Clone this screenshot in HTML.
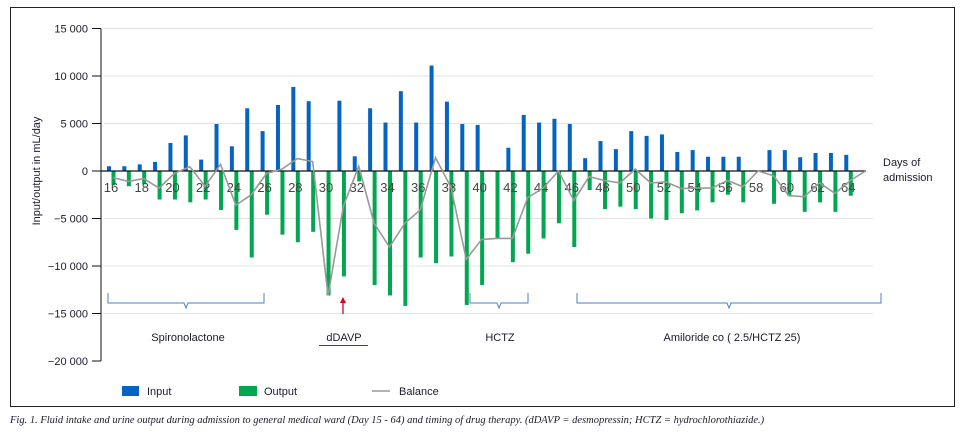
<!DOCTYPE html>
<html><head><meta charset="utf-8"><style>
body{margin:0;background:#fff;width:965px;height:434px;overflow:hidden;font-family:"Liberation Sans",sans-serif}
svg{position:absolute;left:0;top:0}
</style></head><body>
<svg width="965" height="434" xmlns="http://www.w3.org/2000/svg">
<rect x="10.5" y="7.5" width="944" height="399" fill="none" stroke="#222" stroke-width="1"/>
<g id="grid"></g><g id="bars"></g><g id="axes"></g>
<text x="40" y="171" transform="rotate(-90 40 171)" text-anchor="middle" font-size="11" fill="#1a1a2e">Input/output in mL/day</text>
<text x="883" y="166" font-size="11" fill="#1a1a2e">Days of</text>
<text x="883" y="181" font-size="11" fill="#1a1a2e">admission</text>
<g fill="none" stroke="#4a7fc1" stroke-width="1">
<path d="M108 293 V303 H184 L186 308 L188 303 H264 V293"/>
<path d="M470 293 V303 H497 L499 308 L501 303 H528 V293"/>
<path d="M577 293 V303 H727 L729 308 L731 303 H881 V293"/>
</g>
<line x1="343" y1="314" x2="343" y2="302" stroke="#e0001b" stroke-width="1.3"/>
<path d="M340 303 L343 297 L346 303Z" fill="#e0001b"/>
<text x="188" y="341" text-anchor="middle" font-size="11" fill="#1a1a2e">Spironolactone</text>
<text x="344" y="341" text-anchor="middle" font-size="11" fill="#1a1a2e">dDAVP</text>
<line x1="319" y1="345.5" x2="368" y2="345.5" stroke="#e0001b" stroke-width="1"/>
<text x="500" y="341" text-anchor="middle" font-size="11" fill="#1a1a2e">HCTZ</text>
<text x="732" y="341" text-anchor="middle" font-size="11" fill="#1a1a2e">Amiloride co ( 2.5/HCTZ 25)</text>
<g>
<rect x="122" y="386" width="17" height="10" fill="#0563c1"/>
<text x="147" y="395" font-size="11" fill="#1a1a2e">Input</text>
<rect x="239" y="386" width="18" height="10" fill="#00a650"/>
<text x="264" y="395" font-size="11" fill="#1a1a2e">Output</text>
<line x1="372" y1="391" x2="390" y2="391" stroke="#999" stroke-width="1.5"/>
<text x="399" y="395" font-size="11" fill="#1a1a2e">Balance</text>
</g>
<text x="10" y="423" font-family="Liberation Serif,serif" font-style="italic" font-size="10.5" fill="#1a1a2e">Fig. 1. Fluid intake and urine output during admission to general medical ward (Day 15 - 64) and timing of drug therapy. (dDAVP = desmopressin; HCTZ = hydrochlorothiazide.)</text>
</svg>
<script>
const days=[16,17,18,19,20,21,22,23,24,25,26,27,28,29,30,31,32,33,34,35,36,37,38,39,40,41,42,43,44,45,46,47,48,49,50,51,52,53,54,55,56,57,58,59,60,61,62,63,64];
const inputVals=[500,500,700,950,2950,3750,1200,4950,2600,6600,4200,6950,8850,7350,0,7400,1550,6600,5100,8400,5100,11100,7300,4950,4850,0,2450,5900,5100,5500,4950,1350,3150,2300,4200,3700,3850,2000,2200,1500,1500,1500,0,2200,2200,1450,1900,1900,1700];
const outputVals=[-1500,-1600,-1400,-3000,-3000,-3300,-3000,-4100,-6200,-9100,-4600,-6700,-7500,-6400,-13100,-11100,-1100,-12000,-13100,-14200,-9100,-9700,-9000,-14100,-12000,-7100,-9600,-8700,-7100,-5500,-8000,-2000,-4000,-3750,-4000,-5000,-5150,-4450,-4150,-3300,-2500,-3300,0,-3450,-2600,-4300,-3300,-4300,-2600];
const balanceDays=[16,17,18,19,20,21,22,23,24,25,26,27,28,29,30,31,32,33,34,35,36,37,38,39,40,41,42,43,44,45,46,47,48,49,50,51,52,53,54,55,56,57,58,59,60,61,62,63,64,65];
const balanceVals=[-700,-1100,-800,-1800,-250,450,-1600,700,-3600,-2500,-250,200,1300,1000,-13100,-3700,500,-5500,-8000,-5500,-4100,1400,-1700,-9300,-7200,-7100,-7100,-2800,-1800,0,-3100,-600,-1000,-1250,200,-1250,-1150,-1850,-1800,-1800,-1000,-1650,0,-500,-2600,-2700,-1250,-2350,-1000,0];
const yTicks=[15000,10000,5000,0,-5000,-10000,-15000,-20000];
const yTickLabels=["15 000","10 000","5 000","0","−5 000","−10 000","−15 000","−20 000"];
const xTicks=[16,18,20,22,24,26,28,30,32,34,36,38,40,42,44,46,48,50,52,54,56,58,60,62,64];
const NS="http://www.w3.org/2000/svg";
function y(v){return 171-v*47.5/5000;}
function x(d){return 109+(d-16)*15.36;}
function mk(tag,attrs,parent){const e=document.createElementNS(NS,tag);for(const k in attrs)e.setAttribute(k,attrs[k]);parent.appendChild(e);return e;}
const grid=document.getElementById('grid'),bars=document.getElementById('bars'),axes=document.getElementById('axes');
yTicks.forEach((t,i)=>{
  if(t!==0&&t>=-15000){const g=mk('line',{x1:104,x2:873,y1:y(t),y2:y(t),stroke:'#e3e3e3','stroke-width':1},grid);
  
  }
  const tk=mk('line',{x1:92,x2:101,y1:y(t),y2:y(t),stroke:'#111','stroke-width':1},axes);
  
  
  const tx=mk('text',{x:88,y:y(t)+4,'text-anchor':'end','font-size':11,fill:'#1a1a2e'},axes);
  tx.textContent=yTickLabels[i].replace('−','−');
  
  
});
const ya=mk('line',{x1:101,x2:101,y1:y(15000),y2:y(-20000),stroke:'#111','stroke-width':1},axes);


days.forEach((d,i)=>{
  const a=inputVals[i];
  if(a>0){const r=mk('rect',{x:x(d)-2,y:y(a),width:4,height:y(0)-y(a),fill:'#0563c1'},bars);
  
  }
  const o=outputVals[i];
  if(o<0){const r=mk('rect',{x:x(d)+2.5,y:y(0),width:4,height:y(o)-y(0),fill:'#00a650'},bars);
  
  }
});
const za=mk('line',{x1:101,x2:866,y1:y(0),y2:y(0),stroke:'#111','stroke-width':1.3},axes);


xTicks.forEach(d=>{
  const t=mk('text',{x:x(d)+2,y:y(0)+21,'text-anchor':'middle','font-size':13,fill:'#444'},axes);
  t.textContent=d;
  
  
});
const pts=balanceDays.map((d,i)=>(x(d)+4)+','+y(balanceVals[i])).join(' ');
const bl=mk('polyline',{points:pts,fill:'none',stroke:'#999','stroke-width':1.6},axes);


</script>
</body></html>
